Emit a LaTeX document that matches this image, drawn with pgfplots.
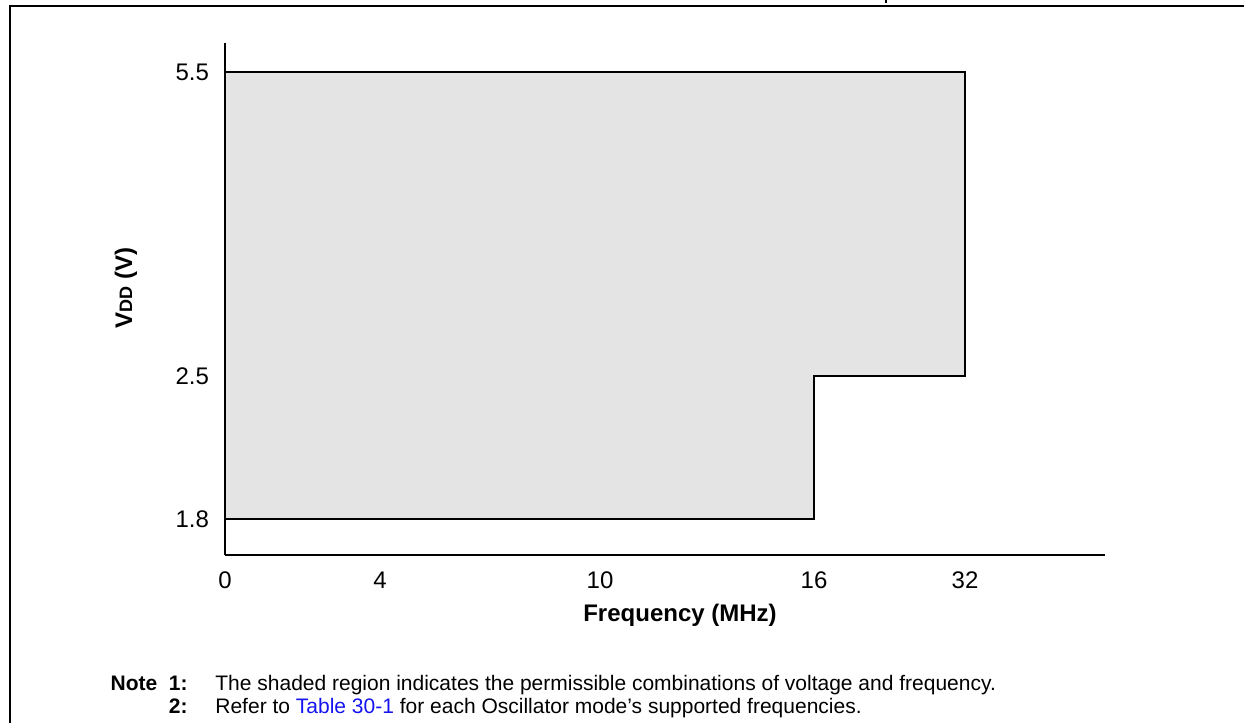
\documentclass[border=0pt]{standalone}
\usepackage{pgfplots}
\pgfplotsset{compat=1.18}
\usepackage{fontspec}
\setmainfont{Liberation Sans}
\definecolor{shade}{RGB}{228,228,228}
\definecolor{linkblue}{RGB}{20,20,240}
\begin{document}
\begin{tikzpicture}
\begin{scope}[x=0.5pt,y=-0.5pt]
\path[use as bounding box] (0,0) rectangle (1244,723);
\draw[line width=1.2pt] (10,723) -- (10,6) -- (1244,6);
\draw[line width=0.6pt] (886,0) -- (886,3);
\node[font=\bfseries\fontsize{12}{14}\selectfont] at (680,615) {Frequency (MHz)};
\node[rotate=90, font=\bfseries\fontsize{12}{14}\selectfont] at (126,288) {V{\fontsize{9}{10}\selectfont DD} (V)};
\node[anchor=base east, inner sep=0, font=\bfseries\fontsize{10.5}{12}\selectfont] at (188,690) {Note\ \ 1:};
\node[anchor=base east, inner sep=0, font=\bfseries\fontsize{10.5}{12}\selectfont] at (188,713) {2:};
\node[anchor=base west, inner sep=0, font=\fontsize{10.5}{12}\selectfont] at (215,690) {The shaded region indicates the permissible combinations of voltage and frequency.};
\node[anchor=base west, inner sep=0, font=\fontsize{10.5}{12}\selectfont] at (215,713) {Refer to \textcolor{linkblue}{Table 30-1} for each Oscillator mode’s supported frequencies.};
\end{scope}
\begin{axis}[
  at={(112.5pt,-277.5pt)}, anchor=south west,
  width=440pt, height=256pt, scale only axis,
  xmin=0, xmax=880, ymin=0, ymax=512,
  axis x line=bottom, axis y line=left,
  axis line style={-, line width=1pt},
  xtick={0,155,375,589,740},
  xticklabels={\mbox{0},\mbox{4},\mbox{10},\mbox{16},\mbox{32}},
  ytick={36,179,483},
  yticklabels={\mbox{1.8},\mbox{2.5},\mbox{5.5}},
  major tick length=0pt,
  tick label style={font=\fontsize{12}{14}\selectfont},
  xticklabel style={yshift=-5pt},
  yticklabel style={xshift=-4.5pt},
  clip=false,
]
\addplot[fill=shade, draw=black, line width=1pt] coordinates {(0,36) (589,36) (589,179) (740,179) (740,483) (0,483)} -- cycle;
\end{axis}
\end{tikzpicture}
\end{document}
